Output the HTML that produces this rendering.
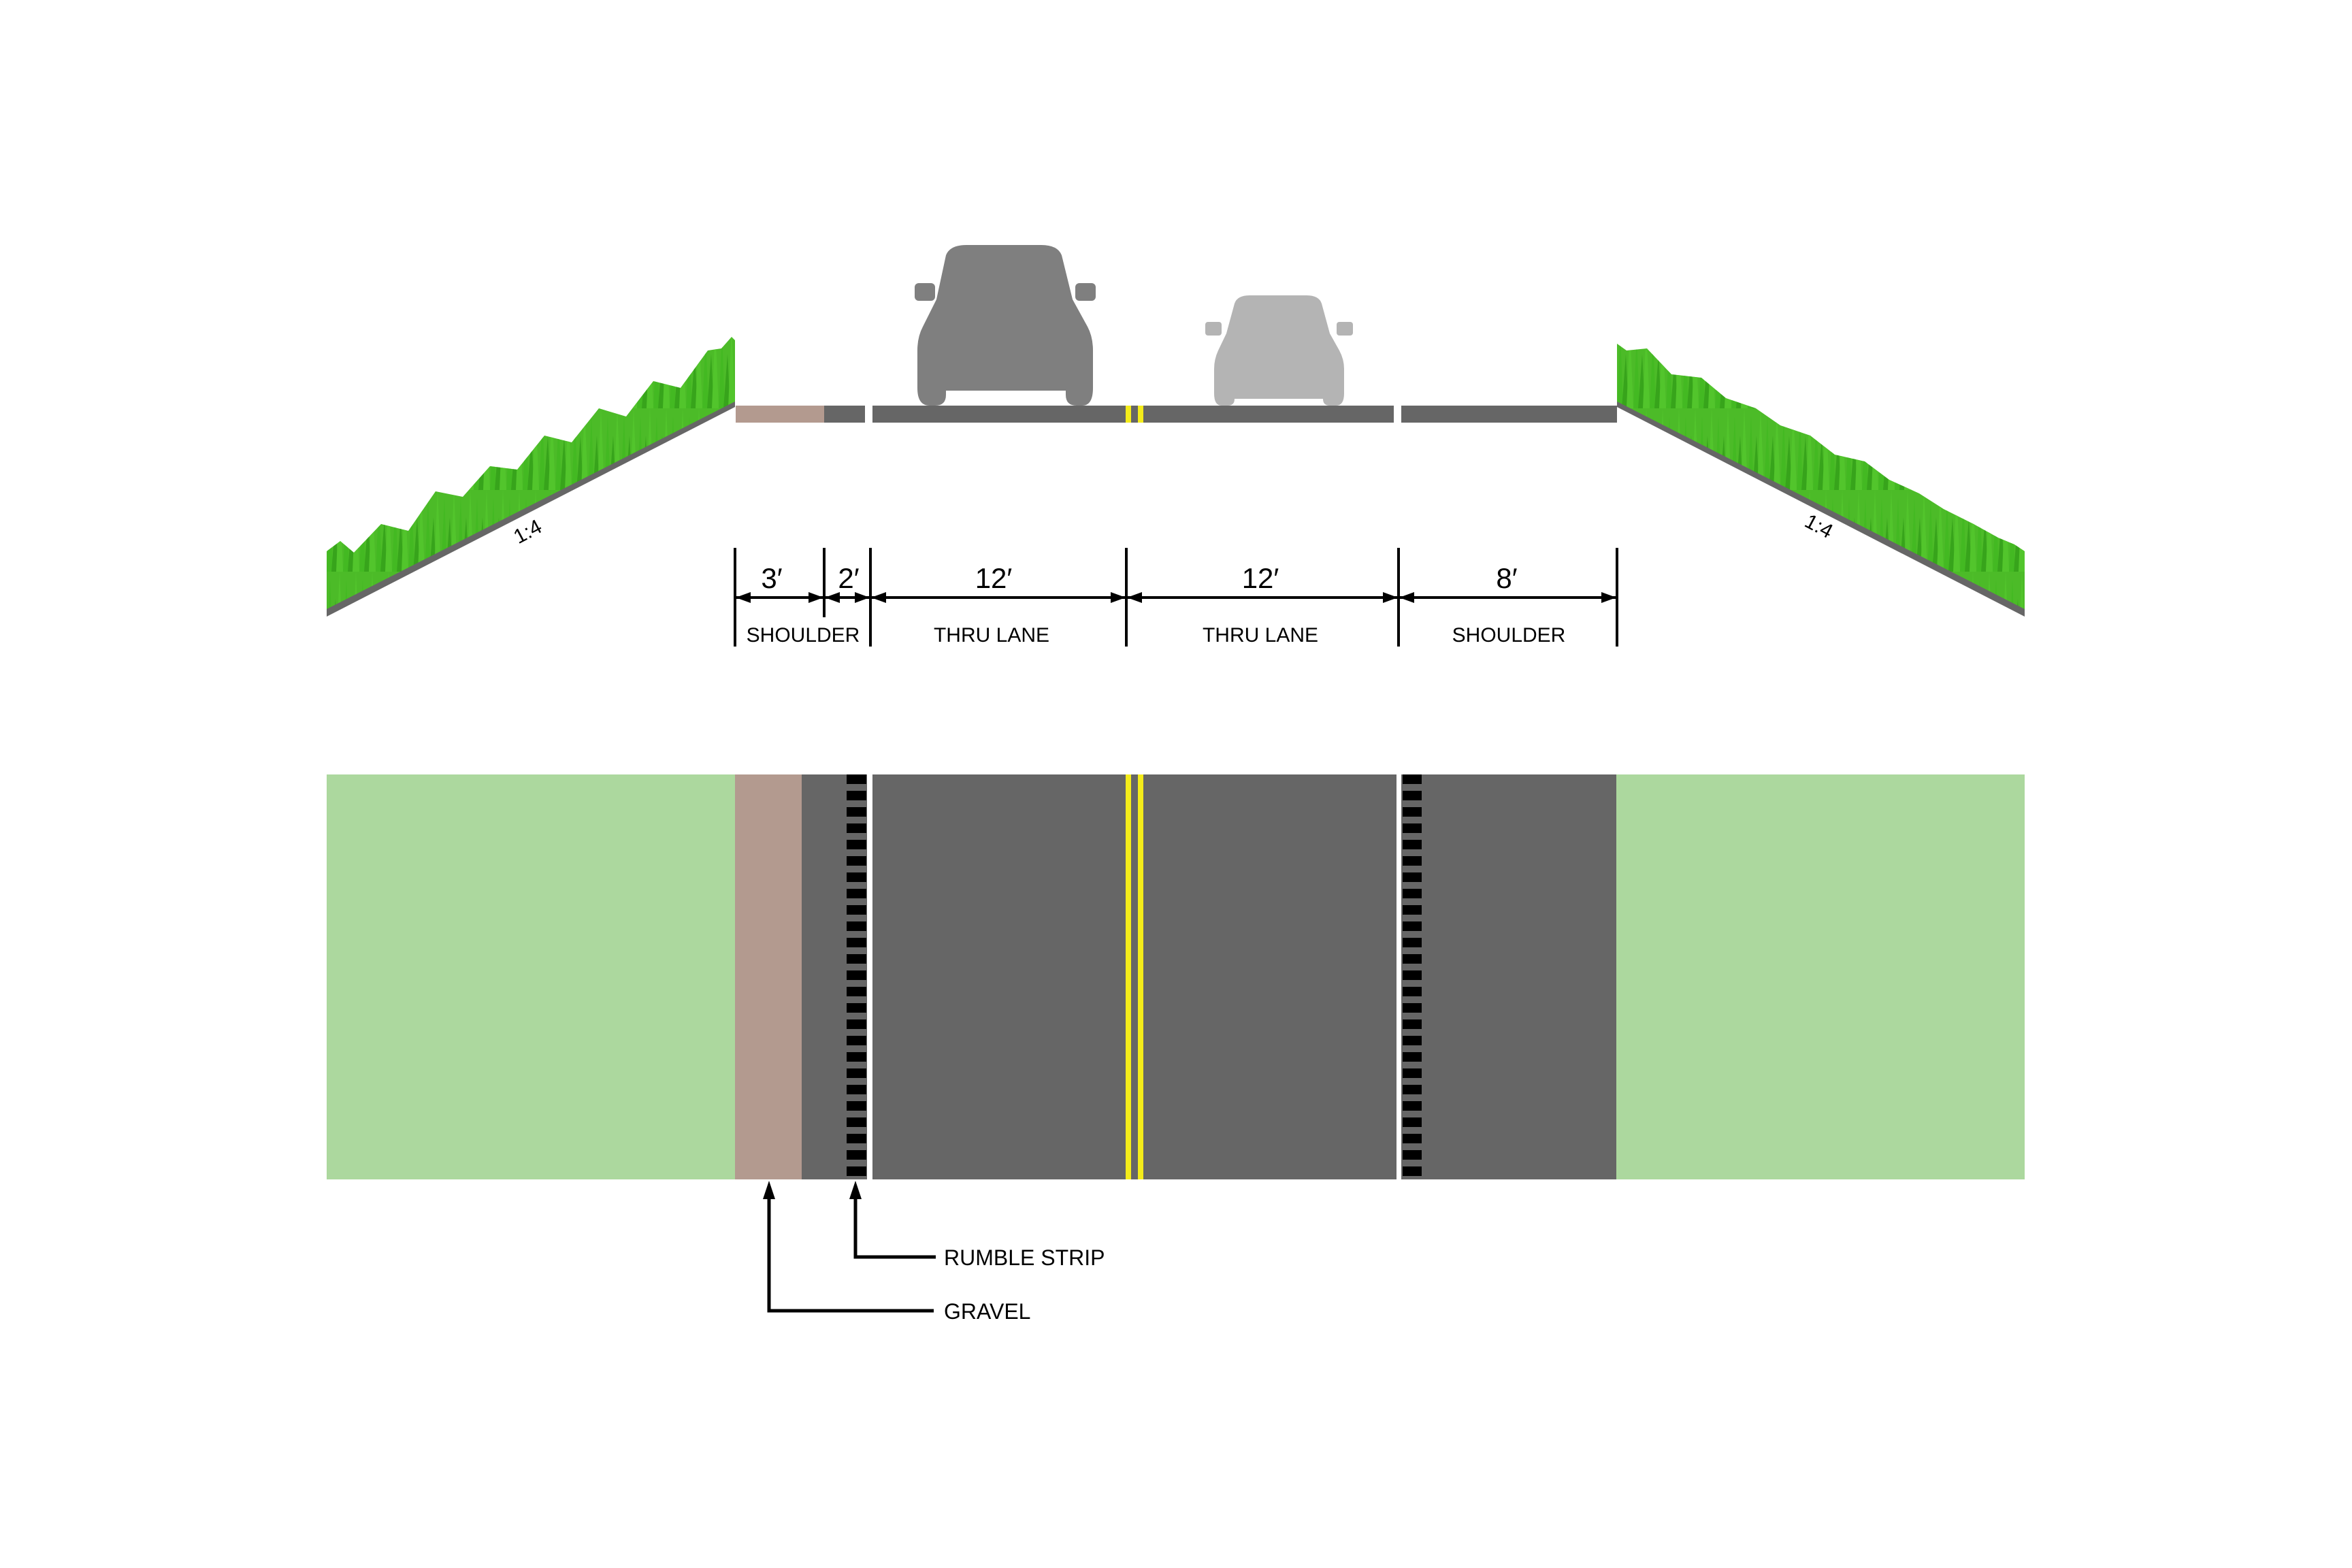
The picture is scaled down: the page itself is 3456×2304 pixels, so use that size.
<!DOCTYPE html>
<html><head><meta charset="utf-8"><style>
html,body{margin:0;padding:0;background:#fff}
svg{display:block}
text{font-family:"Liberation Sans",sans-serif}
</style></head><body>
<svg width="3456" height="2304" viewBox="0 0 3456 2304" xmlns="http://www.w3.org/2000/svg">
<defs>
<pattern id="blades" width="24" height="120" patternUnits="userSpaceOnUse">
<polygon points="0,120 5,10 9,120" fill="#3fb820"/>
<polygon points="7,120 13,40 17,120" fill="#2e9a15"/>
<polygon points="14,120 19,0 24,120" fill="#55c92e"/>
</pattern>
<clipPath id="gl"><polygon points="480,902 480,810 500,795 520,812 560,770 600,780 640,722 680,730 720,685 760,690 800,640 840,650 880,600 920,612 960,560 1000,570 1040,515 1060,512 1075,495 1080,500 1080,596"/></clipPath>
<clipPath id="gr"><polygon points="2376,596 2376,505 2390,515 2420,512 2456,550 2500,555 2536,585 2580,600 2616,625 2660,640 2696,668 2740,678 2776,705 2820,725 2856,748 2900,770 2936,790 2960,800 2975,810 2975,902"/></clipPath>
<marker id="ah" markerWidth="22" markerHeight="16" refX="21" refY="8" orient="auto-start-reverse" markerUnits="userSpaceOnUse" viewBox="0 0 22 16"><path d="M0,0 L22,8 L0,16z" fill="#000"/></marker>
</defs>

<g clip-path="url(#gl)"><rect x="480" y="480" width="600" height="430" fill="#4cbb28"/><rect x="480" y="480" width="600" height="430" fill="url(#blades)" opacity="0.7"/></g>
<polygon points="480,895 1080,590 1080,598 480,906" fill="#666"/>
<text transform="translate(780,790) rotate(-28)" font-size="30" text-anchor="middle">1:4</text>

<g clip-path="url(#gr)"><rect x="2376" y="480" width="600" height="430" fill="#4cbb28"/><rect x="2376" y="480" width="600" height="430" fill="url(#blades)" opacity="0.7"/></g>
<polygon points="2376,590 2975,895 2975,906 2376,598" fill="#666"/>
<text transform="translate(2668,782) rotate(28)" font-size="30" text-anchor="middle">1:4</text>

<rect x="1081" y="596" width="130" height="25" fill="#b39a8f"/>
<rect x="1211" y="596" width="60" height="25" fill="#666"/>
<rect x="1282" y="596" width="370" height="25" fill="#666"/>
<rect x="1652" y="596" width="30" height="25" fill="#666"/>
<rect x="1654" y="596" width="8" height="25" fill="#f4ec1a"/>
<rect x="1672" y="596" width="8" height="25" fill="#f4ec1a"/>
<rect x="1682" y="596" width="366" height="25" fill="#666"/>
<rect x="2059" y="596" width="317" height="25" fill="#666"/>

<path d="M1390,375 Q1396,360 1420,360 L1530,360 Q1554,360 1560,375 L1576,440 L1598,480 Q1606,495 1606,515 L1606,570 Q1606,596 1590,596 L1582,596 Q1566,596 1566,580 L1566,574 L1390,574 L1390,580 Q1390,596 1374,596 L1366,596 Q1348,596 1348,570 L1348,515 Q1348,495 1356,480 L1376,440 Z" fill="#7f7f7f"/>
<rect x="1344" y="416" width="30" height="26" rx="6" fill="#7f7f7f"/>
<rect x="1580" y="416" width="30" height="26" rx="6" fill="#7f7f7f"/>
<path d="M1814,446 Q1818,434 1836,434 L1920,434 Q1938,434 1942,446 L1954,490 L1968,515 Q1975,528 1975,542 L1975,578 Q1975,596 1963,596 L1954,596 Q1944,596 1944,586 L1814,586 Q1814,596 1804,596 L1795,596 Q1784,596 1784,578 L1784,542 Q1784,528 1790,515 L1802,490 Z" fill="#b4b4b4"/>
<rect x="1771" y="473" width="24" height="20" rx="4" fill="#b4b4b4"/>
<rect x="1964" y="473" width="24" height="20" rx="4" fill="#b4b4b4"/>

<g stroke="#000" stroke-width="4">
<line x1="1080" y1="805" x2="1080" y2="950"/>
<line x1="1211" y1="805" x2="1211" y2="907"/>
<line x1="1279" y1="805" x2="1279" y2="950"/>
<line x1="1655" y1="805" x2="1655" y2="950"/>
<line x1="2055" y1="805" x2="2055" y2="950"/>
<line x1="2376" y1="805" x2="2376" y2="950"/>
<line x1="1082" y1="878" x2="1209" y2="878" marker-start="url(#ah)" marker-end="url(#ah)"/>
<line x1="1213" y1="878" x2="1277" y2="878" marker-start="url(#ah)" marker-end="url(#ah)"/>
<line x1="1281" y1="878" x2="1653" y2="878" marker-start="url(#ah)" marker-end="url(#ah)"/>
<line x1="1657" y1="878" x2="2053" y2="878" marker-start="url(#ah)" marker-end="url(#ah)"/>
<line x1="2057" y1="878" x2="2374" y2="878" marker-start="url(#ah)" marker-end="url(#ah)"/>
</g>
<g font-size="42" text-anchor="middle">
<text x="1134" y="864">3′</text>
<text x="1247" y="864">2′</text>
<text x="1460" y="864">12′</text>
<text x="1852" y="864">12′</text>
<text x="2214" y="864">8′</text>
</g>
<g font-size="30" text-anchor="middle">
<text x="1180" y="943">SHOULDER</text>
<text x="1457" y="943">THRU LANE</text>
<text x="1852" y="943">THRU LANE</text>
<text x="2217" y="943">SHOULDER</text>
</g>

<rect x="480" y="1138" width="600" height="595" fill="#acd89e"/>
<rect x="1080" y="1138" width="98" height="595" fill="#b39a8f"/>
<rect x="1178" y="1138" width="96" height="595" fill="#666"/>
<rect x="1282" y="1138" width="770" height="595" fill="#666"/>
<rect x="1654" y="1138" width="8" height="595" fill="#f4ec1a"/>
<rect x="1672" y="1138" width="8" height="595" fill="#f4ec1a"/>
<rect x="2059" y="1138" width="316" height="595" fill="#666"/>
<rect x="2375" y="1138" width="600" height="595" fill="#acd89e"/>
<pattern id="rs" x="0" y="1138" width="30" height="24" patternUnits="userSpaceOnUse"><rect width="30" height="14" fill="#000"/></pattern>
<rect x="1244" y="1138" width="29" height="595" fill="url(#rs)"/>
<rect x="2061" y="1138" width="28" height="595" fill="url(#rs)"/>

<g stroke="#000" stroke-width="5" fill="none">
<polyline points="1375,1847 1257,1847 1257,1760"/>
<polyline points="1372,1926 1130,1926 1130,1760"/>
</g>
<polygon points="1257,1735 1248,1762 1266,1762" fill="#000"/>
<polygon points="1130,1735 1121,1762 1139,1762" fill="#000"/>
<g font-size="32">
<text x="1387" y="1859">RUMBLE STRIP</text>
<text x="1387" y="1938">GRAVEL</text>
</g>
</svg>
</body></html>
